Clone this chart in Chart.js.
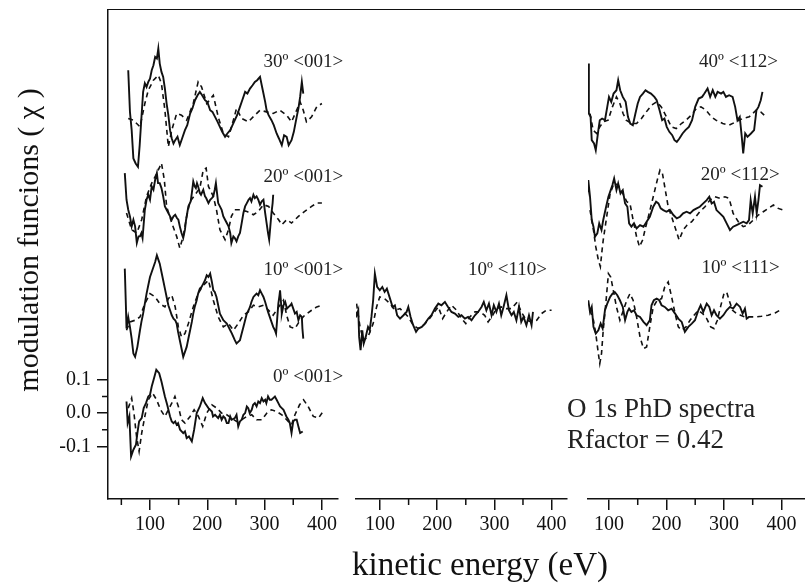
<!DOCTYPE html>
<html>
<head>
<meta charset="utf-8">
<script src="https://cdn.jsdelivr.net/npm/chart.js@4.4.1/dist/chart.umd.min.js"></script>
<style>
  html, body { margin: 0; padding: 0; background: #fff; }
  #wrap { position: relative; width: 805px; height: 585px; overflow: hidden; font-family: 'Liberation Serif', serif; color: #111; }
  #wrap canvas { position: absolute; left: 0; top: 0; }
  .frameTop { position: absolute; left: 107px; top: 9px; width: 698px; border-top: 1.5px solid #111; }
  .xTitle { position: absolute; left: 280px; width: 400px; top: 545px; text-align: center; font-size: 33px; line-height: 38px; }
  .yTitle { position: absolute; left: -172px; top: 222px; width: 400px; height: 36px; line-height: 36px; text-align: center; font-size: 30px; transform: rotate(-90deg); }
</style>
</head>
<body>
<div id="wrap">
  <canvas id="p1" width="805" height="585"></canvas>
  <canvas id="p2" width="805" height="585"></canvas>
  <canvas id="p3" width="805" height="585"></canvas>
  <div class="frameTop"></div>
  <div class="yTitle">modulation funcions ( χ )</div>
  <div class="xTitle">kinetic energy (eV)</div>
</div>
<script>
// ticks
const energyTicks = [100, 200, 300, 400];
const minorEnergyTicks = [50, 150, 250, 350];
const chiTicks = [-0.1, 0, 0.1];
const minorChiTicks = [-0.05, 0.05];

// vertical offsets of each curve (chi units)
const off0_001 = 0, off10_001 = 0.324, off20_001 = 0.631, off30_001 = 0.925;
const off10_110 = 0.309;
const off10_111 = 0.309, off20_112 = 0.61, off40_112 = 0.91;

// [kinetic energy (eV), chi]  exp = solid, fit = dashed
const exp30_001 = [[62,0.105],[65,-0.02],[68,-0.075],[71,-0.16],[75,-0.175],[79,-0.185],[82,-0.12],[85.5,-0.025],[88,0.04],[91,0.066],[94,0.055],[97,0.07],[100,0.08],[103,0.105],[106,0.12],[109,0.145],[112,0.14],[114.5,0.17],[117,0.125],[120,0.1],[123,0.085],[126,0.05],[129,0.005],[132,-0.03],[135,-0.075],[138,-0.1],[141,-0.115],[144,-0.105],[148,-0.095],[152,-0.12],[156,-0.1],[161,-0.075],[165,-0.06],[170,-0.025],[174,-0.01],[178.5,0.015],[183,0.03],[187,0.04],[191,0.03],[196,0.015],[200,0.01],[205,-0.015],[209,-0.02],[213.5,-0.035],[218,-0.05],[222,-0.065],[226,-0.08],[231,-0.095],[235,-0.085],[240,-0.075],[244,-0.06],[248,-0.045],[252,-0.03],[257,-0.005],[261,0.015],[266,0.04],[270,0.035],[274.5,0.05],[279,0.06],[283,0.07],[287,0.075],[292,0.085],[295,0.06],[298,0.035],[301,0.01],[303.5,-0.015],[307,-0.03],[312,-0.045],[316,-0.06],[321,-0.085],[325,-0.1],[330,-0.12],[334,-0.09],[338.5,-0.095],[342,-0.12],[347,-0.105],[351,-0.08],[356,-0.035],[359,-0.01],[362,0.025],[365,0.07],[367.5,0.035]];
const fit30_001 = [[62,-0.04],[71,-0.045],[82.5,-0.065],[91,0.005],[97,0.045],[106,0.075],[114.5,0.09],[120,0.065],[126,-0.015],[132,-0.125],[138,-0.075],[146.5,-0.025],[155,-0.03],[164,-0.045],[175.5,0.005],[184,0.07],[190,0.055],[199,0.005],[210.5,0.03],[219,-0.035],[228,-0.085],[237,-0.095],[245.5,-0.045],[251,-0.01],[260,-0.04],[271.5,-0.05],[283,-0.03],[292,-0.015],[303.5,-0.02],[315,-0.025],[326.5,-0.015],[338.5,-0.03],[347,-0.05],[356,-0.015],[362,0.01],[367.5,-0.015],[373,-0.05],[382,-0.035],[391,-0.005],[400,0.005]];

const exp20_001 = [[56,0.09],[59,0.01],[62,-0.02],[65,-0.04],[68,-0.07],[71,-0.05],[74,-0.07],[77,-0.12],[80,-0.1],[82.5,-0.1],[85,-0.09],[87,-0.105],[91,-0.02],[94,0.01],[97,0.025],[100,0.01],[103,0.05],[106,0.04],[109,0.07],[112,0.09],[114,0.06],[117,0.06],[120,0.045],[123,0.02],[126,-0.01],[129,-0.02],[132,-0.03],[135,-0.04],[138,-0.05],[141,-0.04],[144,-0.035],[147,-0.045],[149.5,-0.05],[152,-0.07],[155,-0.09],[158,-0.105],[161,-0.08],[163,-0.05],[167,-0.01],[171,0.005],[173,0.03],[175.5,0.065],[178,0.05],[180,0.045],[182,0.06],[184,0.05],[187,0.03],[189,0.025],[193,0.04],[196,0.02],[198,0.015],[202,0.0],[205,0.01],[208,0.015],[210.5,0.02],[213,0.04],[215,0.06],[217,0.03],[219,0.0],[222,-0.01],[225,-0.02],[228,-0.04],[231,-0.05],[234,-0.06],[237,-0.07],[240,-0.09],[242,-0.12],[245.5,-0.1],[248,-0.105],[251,-0.115],[254,-0.1],[257,-0.09],[260,-0.06],[263,-0.03],[266,-0.01],[269,0.0],[272,0.01],[274.5,0.015],[277,0.005],[280.5,0.025],[283,0.015],[286,0.02],[289,0.01],[292,-0.005],[295,0.005],[298,0.01],[301,-0.03],[303.5,-0.06],[306,-0.09],[308,-0.11],[310,-0.07],[312,-0.03],[314,0.0],[315,0.025]];
const fit20_001 = [[59,-0.03],[68,-0.08],[77,-0.09],[85.5,-0.05],[94,0.02],[103,0.06],[112,0.09],[120,0.12],[125,0.07],[129,-0.01],[138,-0.06],[146.5,-0.1],[152,-0.135],[158,-0.1],[164,-0.04],[170,0.005],[178.5,0.025],[187,0.045],[193,0.1],[198,0.105],[202,0.05],[210.5,0.02],[216,-0.02],[222,-0.08],[231,-0.11],[237,-0.08],[242,-0.04],[248,-0.02],[257,-0.02],[269,-0.025],[280.5,-0.035],[289,-0.025],[298,-0.005],[307,-0.01],[315,-0.03],[324.5,-0.05],[330,-0.065],[338.5,-0.05],[347,-0.06],[359,-0.04],[370,-0.025],[382,-0.01],[391,0.0],[400,0.0]];

const exp10_001 = [[56,0.11],[58,-0.005],[59,-0.07],[62,-0.035],[65,-0.065],[68,-0.1],[71,-0.145],[74,-0.155],[78,-0.125],[82.5,-0.075],[85,-0.05],[88,-0.025],[91,0.005],[94,0.035],[97,0.06],[100,0.085],[103,0.1],[106,0.115],[109,0.13],[112,0.15],[115,0.135],[117,0.125],[120,0.1],[123,0.075],[126,0.05],[129,0.025],[132,0.0],[135,-0.015],[138,-0.03],[141,-0.04],[144,-0.045],[146.5,-0.055],[149,-0.08],[152,-0.105],[155,-0.13],[158,-0.155],[161,-0.14],[164,-0.125],[167,-0.1],[170,-0.075],[173,-0.05],[175.5,-0.025],[178,-0.005],[181.5,0.015],[184,0.035],[187,0.05],[190,0.055],[193,0.065],[196,0.075],[199,0.09],[202,0.085],[205,0.095],[208,0.07],[210.5,0.045],[213,0.04],[216,0.025],[219,0.0],[222,-0.025],[225,-0.035],[228,-0.045],[231,-0.05],[234,-0.055],[237,-0.065],[240,-0.075],[243,-0.085],[245.5,-0.095],[248,-0.105],[251,-0.115],[254,-0.11],[257,-0.105],[260,-0.085],[263,-0.065],[266,-0.045],[269,-0.025],[272,-0.015],[274.5,-0.005],[277,0.01],[280.5,0.025],[283,0.03],[286,0.035],[289,0.03],[292,0.045],[295,0.035],[298,0.025],[301,0.01],[303.5,-0.005],[306,-0.02],[309,-0.035],[312,-0.05],[315,-0.065],[318,-0.075],[320,-0.085],[322,-0.04],[324,0.005],[326,0.03],[327,0.045],[329,0.0],[330,-0.025],[333,0.0],[336,0.01],[339,-0.01],[342,-0.005],[345,0.0],[347,0.005],[350,-0.01],[353,-0.025],[356,-0.02],[359,-0.045],[362,-0.03],[365,-0.035],[366,-0.07],[367.5,-0.1]];
const fit10_001 = [[59,-0.075],[65,-0.05],[74,-0.045],[82.5,-0.035],[91,0.005],[100,0.035],[109,0.025],[117,0.005],[126,-0.005],[132,0.02],[138,0.03],[144,-0.005],[149.5,-0.065],[155,-0.095],[161,-0.085],[167,-0.055],[175.5,-0.005],[184,0.035],[193,0.06],[202,0.075],[210.5,0.015],[219,-0.035],[228,-0.065],[237,-0.055],[245.5,-0.075],[254,-0.055],[263,-0.03],[271.5,-0.02],[280.5,0.0],[289,-0.005],[298,0.0],[307,-0.015],[315,-0.03],[324.5,-0.005],[333,0.015],[338.5,-0.03],[344.5,-0.065],[353,-0.07],[362,-0.045],[370,-0.03],[382,-0.015],[391,-0.005],[400,0.0]];

const exp0_001 = [[59,0.035],[61,-0.03],[64,-0.01],[67,-0.13],[71,-0.11],[75.5,-0.095],[78,-0.06],[81,-0.025],[85.5,-0.015],[89,0.015],[93,0.03],[97,0.05],[100,0.055],[103,0.08],[107,0.105],[111,0.13],[116,0.12],[120,0.095],[126,0.05],[130,0.025],[135,-0.01],[138,-0.025],[141,-0.03],[144,-0.025],[146.5,-0.035],[149,-0.03],[152.5,-0.05],[158,-0.06],[161,-0.055],[164,-0.075],[168,-0.07],[173,-0.085],[177,-0.05],[181.5,0.0],[187,0.02],[192,0.045],[196,0.03],[202,0.015],[208,0.005],[210,-0.01],[213.5,-0.005],[219,-0.015],[222,-0.005],[225,-0.02],[228,-0.01],[231,-0.015],[234,-0.03],[237,-0.03],[240,-0.01],[242.5,-0.02],[248,-0.015],[251,-0.005],[254,-0.04],[257,-0.025],[260,-0.02],[263,-0.005],[266,0.0],[269,0.02],[271.5,0.015],[274,0.0],[277.5,0.01],[280,0.025],[283,0.03],[286,0.02],[289,0.035],[292,0.03],[295,0.045],[298,0.035],[301,0.04],[303,0.03],[306,0.05],[309,0.04],[312,0.04],[315,0.045],[318,0.05],[321,0.04],[324,0.03],[327,0.02],[330,0.015],[333,0.01],[335.5,0.0],[338,-0.01],[341.5,-0.02],[344,-0.03],[347,-0.06],[350,-0.025],[353,-0.02],[356,-0.02],[359,-0.04],[362,-0.06],[366.5,-0.055]];
const fit0_001 = [[62,0.015],[68,0.045],[72,0.0],[76.5,-0.07],[81,-0.115],[85.5,-0.06],[91,-0.01],[97,0.04],[104.5,0.06],[111.5,0.04],[118.5,0.01],[126,-0.01],[132,0.01],[138,0.03],[143.5,0.05],[149.5,0.02],[155,-0.02],[161,-0.03],[170,-0.01],[177,0.01],[184.5,-0.01],[192,-0.04],[199,0.0],[208,0.025],[216.5,0.015],[225,0.0],[234,-0.005],[242.5,-0.015],[251,-0.025],[260,-0.02],[269,-0.01],[277.5,-0.005],[286,-0.02],[295,-0.02],[304,0.0],[312,0.01],[321,0.005],[330,-0.005],[338.5,-0.02],[347,-0.035],[353,-0.005],[361,0.025],[368,0.04],[376,0.02],[385,-0.01],[394,-0.015],[402,0.005]];

const exp10_110 = [[56,0.0],[59,-0.015],[62,0.0],[63.5,-0.08],[66,-0.12],[69,-0.06],[71.5,-0.1],[75,-0.08],[79,-0.05],[82,-0.06],[85,-0.02],[88,0.03],[91,0.11],[95,0.07],[99.5,0.06],[104,0.07],[108,0.055],[112,0.065],[117.5,0.035],[122,0.01],[126,0.015],[130,-0.015],[135,-0.025],[141,-0.015],[146.5,-0.005],[149.5,0.01],[153.5,-0.02],[158,-0.045],[163,-0.065],[167,-0.055],[173,-0.05],[178.5,-0.04],[184.5,-0.025],[190,-0.015],[196,0.005],[202,0.02],[207.5,0.015],[213.5,0.025],[219,0.01],[225,-0.005],[231,-0.01],[237,-0.02],[242.5,-0.015],[248.5,-0.025],[254,-0.02],[260,-0.03],[266,-0.015],[271.5,-0.005],[277.5,0.01],[281.5,0.025],[286,0.0],[290.5,0.02],[295,-0.015],[299,0.015],[303.5,-0.005],[308,0.02],[312,-0.015],[316,0.01],[321,0.045],[325.5,0.0],[330,-0.015],[334,-0.005],[338.5,-0.03],[343,0.01],[347,-0.035],[351,-0.02],[356,-0.045],[360.5,-0.015],[365,-0.045],[367.5,-0.005]];
const fit10_110 = [[59,0.02],[65,-0.05],[71,-0.09],[79,-0.08],[88,-0.04],[94,0.01],[99.5,0.04],[108,0.035],[117.5,0.02],[126,0.0],[135,0.005],[141,-0.005],[149.5,-0.02],[158,-0.045],[167,-0.055],[176,-0.045],[184.5,-0.03],[193,-0.01],[202,0.01],[209.5,-0.025],[216.5,-0.005],[225,0.015],[234,0.0],[242.5,-0.025],[250,-0.04],[257,-0.02],[266,-0.005],[274.5,-0.005],[283,-0.015],[289,-0.035],[297,-0.015],[303.5,0.005],[312,0.01],[321,0.005],[330,0.005],[340,0.025],[347,-0.005],[356,-0.03],[365,-0.035],[374,-0.03],[382.5,-0.01],[391,0.0],[400,0.0]];

const exp40_112 = [[64,0.14],[65,-0.01],[68,-0.02],[70,-0.09],[74,-0.1],[77,-0.12],[81.5,-0.06],[84,-0.03],[88,-0.025],[93,-0.03],[97,0.01],[100,0.04],[104,0.025],[108,0.05],[113,0.06],[116,0.09],[119.5,0.06],[124,0.04],[129,0.025],[133,-0.02],[137,-0.04],[141.5,-0.045],[146,-0.01],[150,0.02],[154,0.04],[159,0.05],[163.5,0.06],[167.5,0.055],[173,0.05],[179,0.04],[183,0.03],[188,0.0],[192.5,-0.03],[196.5,-0.025],[200.5,-0.05],[205,-0.065],[210,-0.075],[214,-0.09],[218,-0.095],[222.5,-0.085],[228,-0.07],[233,-0.06],[239,-0.05],[244.5,-0.03],[250,0.01],[256,0.035],[262,0.04],[266,0.05],[271.5,0.065],[276,0.04],[280.5,0.06],[285,0.04],[289,0.055],[295,0.05],[299,0.055],[303.5,0.04],[309,0.045],[315,0.04],[319.5,0.01],[323.5,-0.03],[327.5,-0.02],[331,-0.08],[333.5,-0.13],[337,-0.07],[341,-0.08],[347,-0.07],[352.5,-0.06],[356.5,0.0],[360,0.01],[364,0.03],[367,0.055]];
const fit40_112 = [[67,-0.01],[72.5,-0.06],[78.5,-0.07],[84,-0.05],[90,-0.035],[98.5,-0.03],[106,0.01],[113,0.04],[119,0.02],[124.5,-0.01],[130,-0.03],[139,-0.04],[148,-0.04],[156.5,-0.025],[165,-0.005],[174,0.015],[183,0.025],[191,0.01],[200,-0.02],[208.5,-0.05],[217,-0.055],[226,-0.04],[234,-0.03],[243,-0.015],[252,0.005],[260,0.01],[269,0.0],[278,-0.02],[286,-0.03],[298,-0.04],[309,-0.045],[321,-0.035],[332.5,-0.025],[344,-0.02],[356,0.0],[364,-0.005],[370,-0.015]];

const exp20_112 = [[58,0.0],[60,-0.025],[62,0.04],[64,0.09],[67,0.04],[70,-0.03],[73,-0.05],[75.6,-0.08],[79.7,-0.07],[83,-0.04],[87,-0.06],[90,-0.03],[95,0.01],[99,0.04],[103,0.06],[106,0.075],[109,0.095],[113,0.06],[116,0.08],[120,0.05],[124,0.06],[128,0.02],[132,0.01],[135,-0.04],[139,-0.05],[143.5,-0.04],[148,-0.055],[154,-0.045],[160,-0.05],[165.5,-0.035],[171,-0.02],[177,0.01],[182,0.025],[186,0.02],[190,0.005],[194.5,0.0],[200,-0.005],[206,0.0],[212,-0.015],[218,-0.025],[223.5,-0.02],[229,-0.01],[235,-0.005],[241,-0.01],[247,0.0],[252.5,0.005],[258,0.01],[264,0.02],[270,0.03],[274.5,0.04],[278.6,0.02],[282.7,0.025],[287,0.0],[293,-0.01],[299,-0.02],[304.7,-0.04],[310.5,-0.06],[316,-0.05],[322,-0.045],[328,-0.04],[333.7,-0.035],[339.5,-0.04],[343.6,-0.03],[346.5,0.03],[350,-0.01],[354,0.04],[357,-0.01],[360,0.03],[362.7,0.075],[367,0.07]];
const fit20_112 = [[67,0.0],[73,-0.06],[77,-0.11],[81.5,-0.15],[85,-0.17],[88,-0.12],[90,-0.09],[96,-0.02],[102,0.05],[108.7,0.08],[116,0.075],[124,0.05],[131,0.025],[136.5,0.02],[142,-0.03],[148,-0.08],[153,-0.11],[158.5,-0.09],[164,-0.05],[170,-0.01],[177,0.04],[184,0.09],[188.7,0.12],[193,0.11],[197,0.07],[203,0.01],[209,-0.02],[216.5,-0.06],[222,-0.09],[229,-0.06],[236,-0.045],[244,-0.035],[251,-0.02],[258,-0.005],[267,0.01],[275.6,0.03],[284,0.04],[293,0.035],[301.7,0.04],[309,0.035],[316,-0.01],[325,-0.035],[333.6,-0.05],[342,-0.045],[351,-0.03],[359.7,-0.015],[368.4,-0.005],[377,0.005],[386,0.015],[394.5,0.005],[403,0.0]];

const exp10_111 = [[64,0.03],[67,-0.005],[70,0.01],[73,-0.05],[77,-0.07],[81.5,-0.06],[85.5,-0.04],[89,-0.055],[93,0.0],[97,0.02],[102,0.04],[106,0.05],[110,0.055],[114.5,0.045],[119,0.03],[124,0.01],[128,-0.03],[132,-0.005],[135,0.005],[139,-0.005],[143.5,0.0],[148,-0.015],[154,-0.02],[160,-0.035],[165.5,-0.045],[171,-0.03],[174,0.015],[178,0.03],[183,0.035],[187.5,0.03],[191.5,0.015],[197,0.01],[203,0.0],[209,0.005],[215,-0.01],[220.6,-0.025],[226.5,-0.035],[232,-0.065],[238,-0.05],[244,-0.04],[249.6,-0.03],[255.5,0.0],[259.5,0.015],[264,-0.005],[270,0.02],[274.5,0.01],[278.6,-0.015],[282.7,0.0],[287,-0.015],[293,-0.025],[299,-0.015],[304.7,0.0],[310.5,0.01],[316,0.005],[322,0.02],[328,0.01],[332.5,-0.01],[336.5,0.005],[339.5,-0.025],[343.6,-0.02]];
const fit10_111 = [[67,0.0],[73,-0.03],[77,-0.07],[81.5,-0.13],[84,-0.16],[87,-0.13],[90,-0.06],[95,0.03],[99,0.11],[103,0.1],[107.5,0.06],[113,0.01],[119,-0.03],[125,0.0],[131,0.03],[136.5,0.05],[142,0.03],[148,-0.02],[154,-0.08],[160,-0.115],[165.5,-0.11],[171,-0.05],[177,0.01],[184,0.03],[191.5,0.035],[197,0.07],[203,0.085],[209,0.04],[215,-0.01],[220.6,-0.05],[226.5,-0.06],[234,-0.05],[241,-0.03],[248,-0.015],[255.5,0.0],[263,-0.01],[270,-0.025],[277,-0.05],[282.7,-0.055],[288.5,-0.03],[294,0.01],[300,0.05],[304.7,0.055],[309,0.03],[315,0.0],[322,-0.01],[329,-0.015],[336.5,-0.02],[345,-0.02],[354,-0.02],[365.5,-0.018],[377,-0.015],[389,-0.008],[400.5,0.003]];

// shared y range (chi units incl. offsets)
const yMin = -0.258, yMax = 1.211;
const serif = 'Liberation Serif';

function toPoints(pairs, offset) {
    return pairs.map(p => ({ x: p[0], y: p[1] + offset }));
}

const minorTicks = {
    id: 'minorTicks',
    afterDraw(chart) {
        const ctx = chart.ctx, xs = chart.scales.x, ys = chart.scales.y;
        ctx.save();
        ctx.strokeStyle = '#111';
        ctx.lineWidth = 1.5;
        ctx.beginPath();
        minorEnergyTicks.forEach(v => {
            if (v < xs.min || v > xs.max) return;
            const px = xs.getPixelForValue(v);
            ctx.moveTo(px, xs.top);
            ctx.lineTo(px, xs.top + 6);
        });
        if (ys.options.display) {
            minorChiTicks.forEach(v => {
                const py = ys.getPixelForValue(v);
                ctx.moveTo(ys.right, py);
                ctx.lineTo(ys.right - 6, py);
            });
        }
        ctx.stroke();
        ctx.restore();
    }
};

function textPlugin(items) {
    return {
        id: 'panelText',
        afterDraw(chart) {
            const ctx = chart.ctx;
            ctx.save();
            ctx.fillStyle = '#222';
            ctx.textBaseline = 'middle';
            items.forEach(it => {
                ctx.font = it.size + 'px "' + serif + '"';
                ctx.textAlign = it.align;
                ctx.fillText(it.text, chart.scales.x.getPixelForValue(it.e), chart.scales.y.getPixelForValue(it.chi));
            });
            ctx.restore();
        }
    };
}

function makePanel(id, cfg) {
    const datasets = [];
    cfg.curves.forEach(c => {
        datasets.push({ data: toPoints(c.fit, c.offset), borderColor: '#111', borderWidth: 1.6, borderDash: [5, 4], pointRadius: 0, tension: 0, fill: false });
        datasets.push({ data: toPoints(c.exp, c.offset), borderColor: '#111', borderWidth: 1.9, pointRadius: 0, tension: 0, fill: false });
    });
    new Chart(document.getElementById(id), {
        type: 'line',
        data: { datasets: datasets },
        options: {
            responsive: false,
            animation: false,
            layout: { padding: { left: cfg.padLeft, right: cfg.padRight, top: 10, bottom: 45 } },
            plugins: { legend: { display: false }, tooltip: { enabled: false } },
            scales: {
                x: {
                    type: 'linear', min: cfg.xMin, max: cfg.xMax,
                    afterBuildTicks: s => { s.ticks = energyTicks.map(v => ({ value: v })); },
                    afterFit: s => { s.height = 41; s.paddingLeft = 0; s.paddingRight = 0; },
                    grid: { drawOnChartArea: false, drawTicks: true, tickLength: 11, color: '#111', lineWidth: 1.5 },
                    border: { display: true, color: '#111', width: 1.5 },
                    ticks: { color: '#111', font: { family: serif, size: 20 }, padding: 3, maxRotation: 0, autoSkip: false, callback: v => String(v) }
                },
                y: {
                    type: 'linear', min: yMin, max: yMax, display: cfg.showY,
                    afterBuildTicks: s => { s.ticks = chiTicks.map(v => ({ value: v })); },
                    afterFit: s => {
                        if (cfg.showY) s.width = 108;
                        s.paddingTop = 0;
                        s.paddingBottom = 0;
                    },
                    grid: { drawOnChartArea: false, drawTicks: true, tickLength: 11, color: '#111', lineWidth: 1.5 },
                    border: { display: true, color: '#111', width: 1.5 },
                    ticks: { color: '#111', font: { family: serif, size: 20 }, padding: 6, callback: v => v.toFixed(1) }
                }
            }
        },
        plugins: [minorTicks, textPlugin(cfg.labels)]
    });
}

makePanel('p1', {
    xMin: 26.7, xMax: 428.1, padLeft: 0, padRight: 467, showY: true,
    curves: [
        { exp: exp30_001, fit: fit30_001, offset: off30_001 },
        { exp: exp20_001, fit: fit20_001, offset: off20_001 },
        { exp: exp10_001, fit: fit10_001, offset: off10_001 },
        { exp: exp0_001, fit: fit0_001, offset: off0_001 }
    ],
    labels: [
        { text: '30º <001>', e: 437, chi: 1.054, align: 'right', size: 19 },
        { text: '20º <001>', e: 437, chi: 0.709, align: 'right', size: 19 },
        { text: '10º <001>', e: 437, chi: 0.429, align: 'right', size: 19 },
        { text: '0º <001>', e: 437, chi: 0.108, align: 'right', size: 19 }
    ]
});

makePanel('p2', {
    xMin: 58, xMax: 427, padLeft: 356, padRight: 238, showY: false,
    curves: [
        { exp: exp10_110, fit: fit10_110, offset: off10_110 }
    ],
    labels: [
        { text: '10º <110>', e: 392, chi: 0.429, align: 'right', size: 19 }
    ]
});

makePanel('p3', {
    xMin: 63.5, xMax: 441, padLeft: 588, padRight: 0, showY: false,
    curves: [
        { exp: exp40_112, fit: fit40_112, offset: off40_112 },
        { exp: exp20_112, fit: fit20_112, offset: off20_112 },
        { exp: exp10_111, fit: fit10_111, offset: off10_111 }
    ],
    labels: [
        { text: '40º <112>', e: 394, chi: 1.054, align: 'right', size: 19 },
        { text: '20º <112>', e: 397, chi: 0.715, align: 'right', size: 19 },
        { text: '10º <111>', e: 397, chi: 0.435, align: 'right', size: 19 },
        { text: 'O 1s PhD spectra', e: 27, chi: 0.009, align: 'left', size: 27 },
        { text: 'Rfactor = 0.42', e: 27, chi: -0.084, align: 'left', size: 27 }
    ]
});
</script>
</body>
</html>
